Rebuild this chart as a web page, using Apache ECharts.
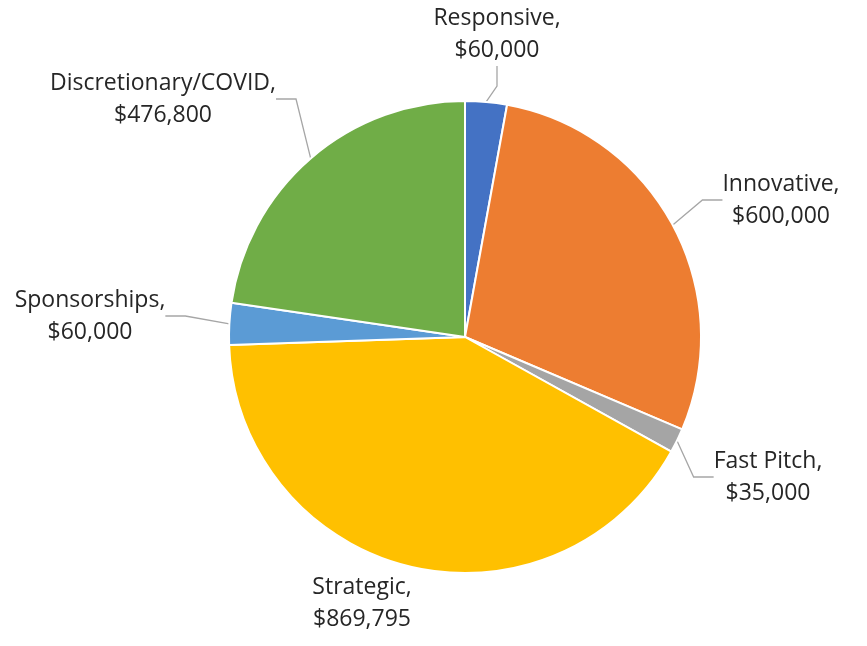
<!DOCTYPE html>
<html>
<head>
<meta charset="utf-8">
<script src="https://cdn.jsdelivr.net/npm/echarts@6/dist/echarts.min.js"></script>
<style>
  html, body { margin: 0; padding: 0; background: #fff; }
  #chart { width: 867px; height: 646px; }
</style>
</head>
<body>
<div id="chart"></div>
<script>
// data
var categories = ['Responsive', 'Innovative', 'Fast Pitch', 'Strategic', 'Sponsorships', 'Discretionary/COVID'];
var amounts = [60000, 600000, 35000, 869795, 60000, 476800];
var colors = ['#4472C4', '#ED7D31', '#A5A5A5', '#FFC000', '#5B9BD5', '#70AD47'];
// where each label sits (centre of the text block)
var labelSpots = [[497, 34], [781, 200], [768, 477], [362, 603], [90, 316], [163, 99]];
var showLeader = [true, true, true, false, true, true];

function money(v) {
  return '$' + v.toString().replace(/\B(?=(\d{3})+(?!\d))/g, ',');
}

var chart = echarts.init(document.getElementById('chart'));

var pieData = categories.map(function (name, i) {
  return {
    name: name,
    value: amounts[i],
    itemStyle: { color: colors[i] },
    labelLine: { show: showLeader[i] }
  };
});

chart.setOption({
  animation: false,
  series: [{
    type: 'pie',
    center: [465, 337],
    radius: 236,
    startAngle: 90,
    clockwise: true,
    data: pieData,
    itemStyle: { borderColor: '#fff', borderWidth: 2 },
    label: {
      show: true,
      position: 'outside',
      formatter: function (p) { return p.name + ',\n' + money(p.value); },
      fontFamily: 'Open Sans',
      fontSize: 23,
      lineHeight: 32,
      color: '#262626',
      align: 'center'
    },
    labelLine: {
      show: true,
      length: 12,
      length2: 20,
      lineStyle: { color: '#A6A6A6', width: 1.3 }
    },
    labelLayout: function (params) {
      var s = labelSpots[params.dataIndex];
      return { x: s[0], y: s[1], align: 'center', verticalAlign: 'middle' };
    }
  }]
});
</script>
</body>
</html>
